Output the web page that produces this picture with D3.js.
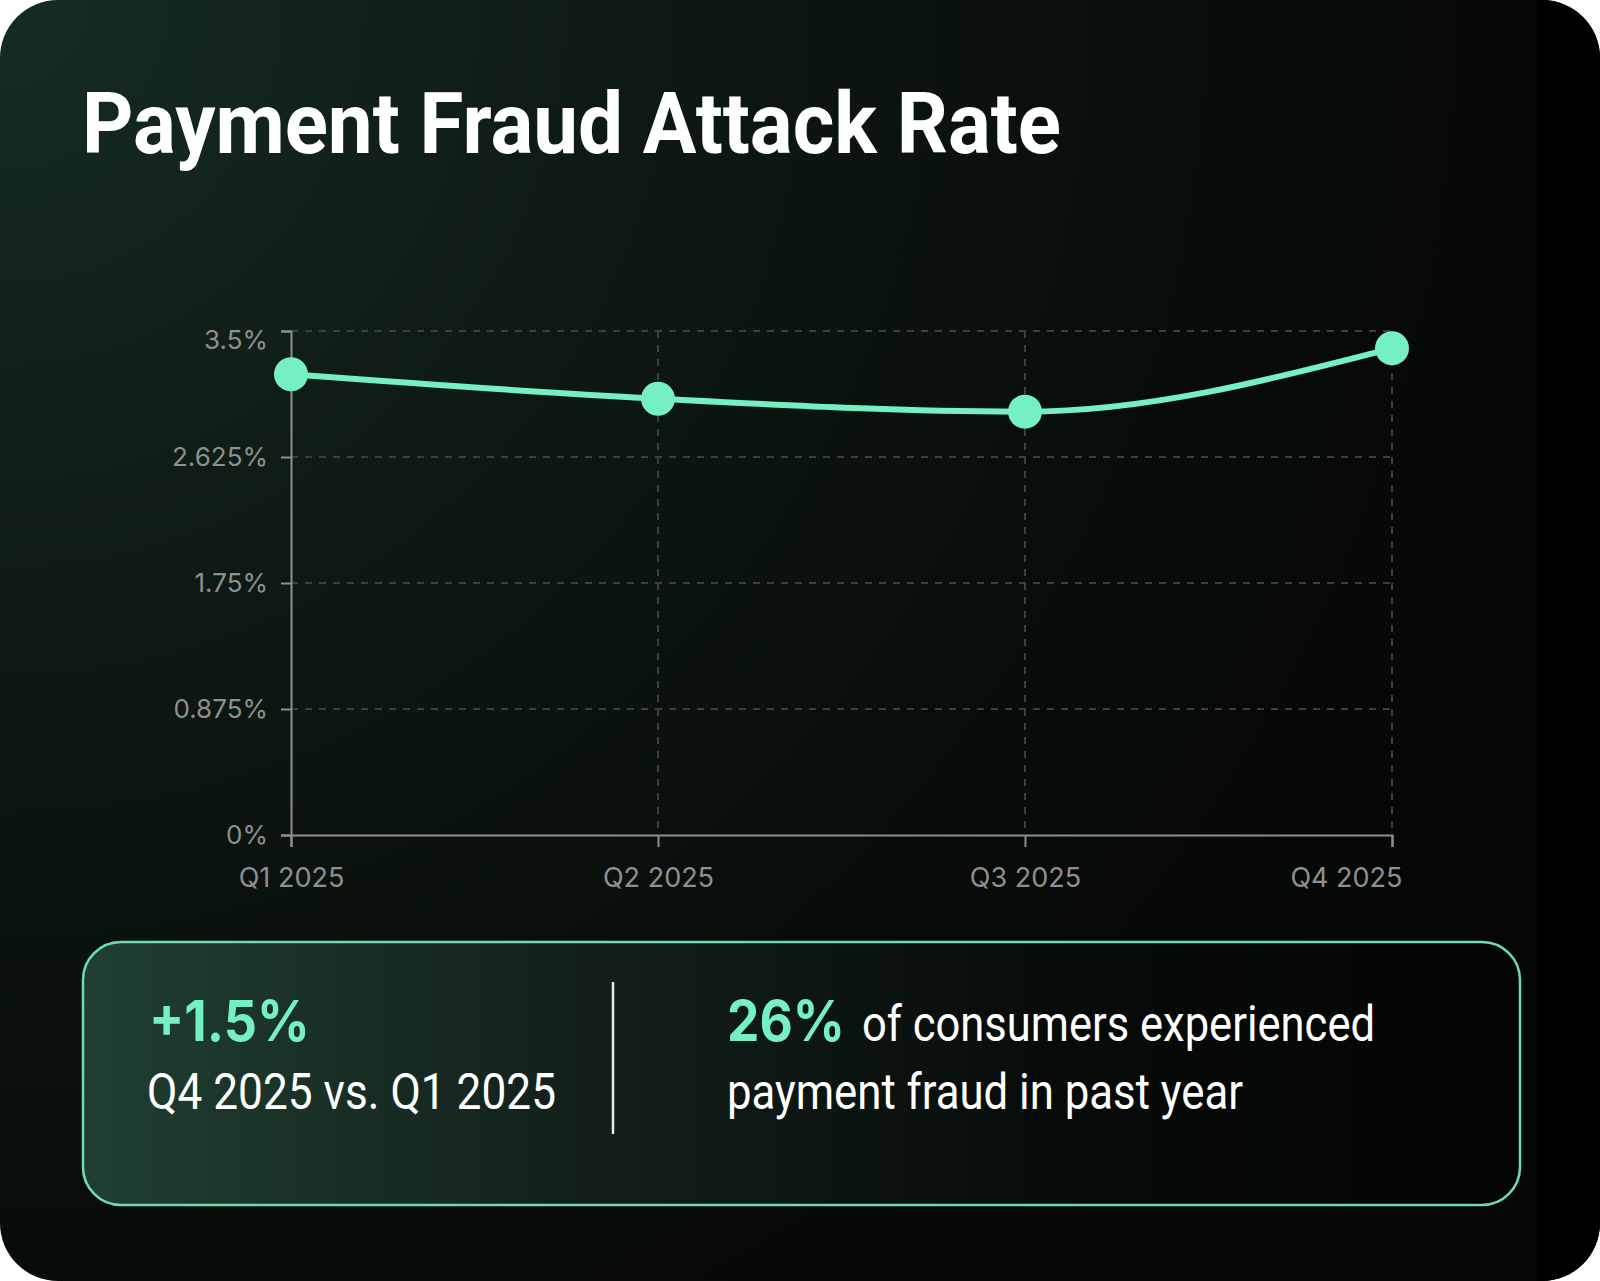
<!DOCTYPE html>
<html>
<head>
<meta charset="utf-8">
<script src="https://cdn.jsdelivr.net/npm/d3@7"></script>
<style>
    html, body { margin: 0; padding: 0; background: #ffffff; }
    svg { display: block; }
</style>
</head>
<body>
<svg id="chart" width="1600" height="1281"></svg>
<script>
// quarterly payment fraud attack rate (%)
const QUARTERS = ['Q1 2025', 'Q2 2025', 'Q3 2025', 'Q4 2025'];
const RATE = [3.2, 3.03, 2.94, 3.38];

// y axis ticks
const Y_TICKS = [0, 0.875, 1.75, 2.625, 3.5];

// summary box texts
const STAT_LEFT = ['+1.5%', 'Q4 2025 vs. Q1 2025'];
const STAT_RIGHT = ['26%', 'of consumers experienced', 'payment fraud in past year'];

const W = 1600;
const H = 1281;
const MINT = '#74f0c3';
const AXIS_GREY = '#8e908f';

// plot area
const PLOT = { left: 291, right: 1392, top: 331, bottom: 835 };

const SVG = d3.select('#chart');
const DEFS = SVG.append('defs');

// gradient helper
function gradient_helper(id, type, attrs, stops) {
    const G = DEFS.append(type).attr('id', id);
    for (const k in attrs) G.attr(k, attrs[k]);
    stops.forEach(s => G.append('stop').attr('offset', s[0]).attr('stop-color', s[1]));
    return G;
}

gradient_helper('cardBg', 'radialGradient',
    { cx: 0, cy: 0, r: 1700, fx: 0, fy: 0, gradientUnits: 'userSpaceOnUse' },
    [['0%', '#162c22'], ['40%', '#0d1813'], ['75%', '#070b09'], ['100%', '#050706']]);

gradient_helper('boxBg', 'linearGradient',
    { x1: 83, y1: 0, x2: 1520, y2: 0, gradientUnits: 'userSpaceOnUse' },
    [['0%', '#203f32'], ['35%', '#121f1a'], ['70%', '#060a08'], ['100%', '#030504']]);

// card
DEFS.append('clipPath').attr('id', 'cardClip')
    .append('rect').attr('width', W).attr('height', H).attr('rx', 58).attr('ry', 58);

const CARD = SVG.append('g').attr('clip-path', 'url(#cardClip)');
CARD.append('rect').attr('width', W).attr('height', H).attr('fill', 'url(#cardBg)');
CARD.append('rect').attr('x', 1537).attr('width', W - 1537).attr('height', H).attr('fill', '#000000');

// title
SVG.append('text')
    .attr('x', 82)
    .attr('y', 153)
    .attr('textLength', 979)
    .attr('lengthAdjust', 'spacingAndGlyphs')
    .style('font-family', 'Roboto, "Noto Sans", sans-serif')
    .style('font-weight', 700)
    .style('font-size', '86px')
    .style('fill', '#ffffff')
    .text('Payment Fraud Attack Rate');

// scales
const X_SCALE = d3.scalePoint().domain(QUARTERS).range([PLOT.left, PLOT.right]);
const Y_SCALE = d3.scaleLinear().domain([0, d3.max(Y_TICKS)]).range([PLOT.bottom, PLOT.top]);

// grid
const GRID = SVG.append('g').attr('id', 'grid');
GRID.selectAll('line.h')
    .data(Y_TICKS.filter(d => d > 0))
    .join('line')
    .attr('class', 'h')
    .attr('x1', PLOT.left).attr('x2', PLOT.right)
    .attr('y1', d => Y_SCALE(d)).attr('y2', d => Y_SCALE(d));
GRID.selectAll('line.v')
    .data(QUARTERS.slice(1))
    .join('line')
    .attr('class', 'v')
    .attr('x1', d => X_SCALE(d)).attr('x2', d => X_SCALE(d))
    .attr('y1', PLOT.top).attr('y2', PLOT.bottom);
GRID.selectAll('line')
    .attr('stroke', '#3c3f3e')
    .attr('stroke-width', 2)
    .attr('stroke-dasharray', '7 7');

// axes
const Y_AXIS = d3.axisLeft(Y_SCALE).tickValues(Y_TICKS).tickSize(10).tickPadding(13).tickFormat(d => d + '%');
const X_AXIS = d3.axisBottom(X_SCALE).tickSize(12).tickPadding(21);

const Y_AXIS_G = SVG.append('g').attr('transform', `translate(${PLOT.left}, 0)`).call(Y_AXIS);
const X_AXIS_G = SVG.append('g').attr('transform', `translate(0, ${PLOT.bottom})`).call(X_AXIS);

[Y_AXIS_G, X_AXIS_G].forEach(g => {
    g.select('.domain').attr('stroke', AXIS_GREY).attr('stroke-width', 2);
    g.selectAll('.tick line').attr('stroke', AXIS_GREY).attr('stroke-width', 2);
    g.selectAll('.tick text')
        .style('font-family', 'Inter, Roboto, sans-serif')
        .style('fill', AXIS_GREY);
});
Y_AXIS_G.selectAll('.tick text').style('font-size', '26px');
X_AXIS_G.selectAll('.tick text').style('font-size', '27px');
// top y label is pushed down a little, last x label sits left of its tick
Y_AXIS_G.selectAll('.tick text')
    .filter(d => d === d3.max(Y_TICKS))
    .attr('y', 9);
X_AXIS_G.selectAll('.tick text')
    .filter(d => d === QUARTERS[QUARTERS.length - 1])
    .attr('text-anchor', 'end')
    .attr('x', 10);

// line
const LINE = d3.line()
    .x((d, i) => X_SCALE(QUARTERS[i]))
    .y(d => Y_SCALE(d))
    .curve(d3.curveMonotoneX);

SVG.append('path')
    .datum(RATE)
    .attr('d', LINE)
    .attr('fill', 'none')
    .attr('stroke', MINT)
    .attr('stroke-width', 6)
    .attr('stroke-linecap', 'round');

SVG.append('g').selectAll('circle')
    .data(RATE)
    .join('circle')
    .attr('cx', (d, i) => X_SCALE(QUARTERS[i]))
    .attr('cy', d => Y_SCALE(d))
    .attr('r', 17)
    .attr('fill', MINT);

// summary box
SVG.append('rect')
    .attr('x', 83).attr('y', 942)
    .attr('width', 1437).attr('height', 263)
    .attr('rx', 38).attr('ry', 38)
    .attr('fill', 'url(#boxBg)')
    .attr('stroke', '#6fdcb0')
    .attr('stroke-width', 2.5);

SVG.append('line')
    .attr('x1', 613).attr('x2', 613)
    .attr('y1', 982).attr('y2', 1134)
    .attr('stroke', '#e8ece9')
    .attr('stroke-width', 2.5);

// text helper
function text_helper(str, x, y, len, size, weight, color) {
    const T = SVG.append('text')
        .attr('x', x)
        .attr('y', y)
        .style('font-family', weight > 500 ? 'Inter, Roboto, sans-serif' : 'Roboto, Inter, sans-serif')
        .style('font-weight', weight)
        .style('font-size', size + 'px')
        .style('fill', color)
        .text(str);
    if (len) T.attr('textLength', len).attr('lengthAdjust', 'spacingAndGlyphs');
    return T;
}

text_helper(STAT_LEFT[0], 149, 1041, 161, 57, 700, MINT);
text_helper(STAT_LEFT[1], 147, 1109, 409, 50, 400, '#ffffff');
text_helper(STAT_RIGHT[0], 727, 1041, 118, 57, 700, MINT);
text_helper(STAT_RIGHT[1], 862, 1041, 513, 50, 400, '#ffffff');
text_helper(STAT_RIGHT[2], 727, 1109, 516, 50, 400, '#ffffff');
</script>
</body>
</html>
